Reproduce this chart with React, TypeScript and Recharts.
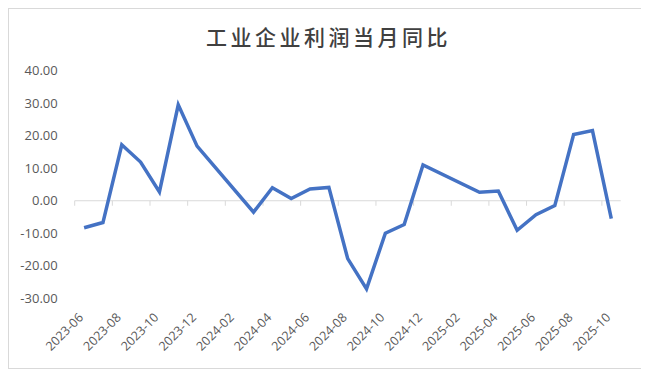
import React from 'react';
import { LineChart, Line, XAxis, YAxis, ReferenceLine } from 'recharts';

const chartTitle = '工业企业利润当月同比';

const months: string[] = [
  '2023-06', '2023-07', '2023-08', '2023-09', '2023-10', '2023-11', '2023-12',
  '2024-01', '2024-02', '2024-03', '2024-04', '2024-05', '2024-06', '2024-07',
  '2024-08', '2024-09', '2024-10', '2024-11', '2024-12',
  '2025-01', '2025-02', '2025-03', '2025-04', '2025-05', '2025-06', '2025-07',
  '2025-08', '2025-09', '2025-10',
];

const profitYoY: (number | null)[] = [
  -8.3, -6.7, 17.2, 11.9, 2.7, 29.5, 16.8,
  null, null, -3.5, 4.0, 0.7, 3.6, 4.1,
  -17.8, -27.1, -10.0, -7.3, 11.0,
  null, null, 2.6, 3.0, -9.1, -4.3, -1.5,
  20.4, 21.6, -5.5,
];

const yTicks: number[] = [-30, -20, -10, 0, 10, 20, 30, 40];

const data = months.map((m, i) => ({ month: m, value: profitYoY[i] }));

const FONT = '"Open Sans", "Noto Sans CJK SC", sans-serif';

const XTick = (props: any) => {
  const { x, y, payload } = props;
  return (
    <text
      x={x}
      y={y}
      transform={`rotate(-45, ${x}, ${y})`}
      textAnchor="end"
      fontSize={12.5}
      fontFamily={FONT}
      fill="#595959"
    >
      {payload.value}
    </text>
  );
};

const ZeroAxis = (props: any) => {
  const { x1, y1, x2, y2 } = props;
  if (x1 == null) return null;
  const n = months.length;
  const bw = (x2 - x1) / n;
  const marks: number[] = [];
  for (let i = 0; i < n; i += 2) marks.push(x1 + i * bw);
  return (
    <g>
      <line x1={x1} y1={y1} x2={x2} y2={y2} stroke="#d9d9d9" strokeWidth={1} />
      {marks.map((mx, i) => (
        <line key={i} x1={mx} y1={y1} x2={mx} y2={y1 + 5} stroke="#d9d9d9" strokeWidth={1} />
      ))}
    </g>
  );
};

export default function App() {
  return (
    <div
      style={{
        position: 'relative',
        width: 638,
        height: 361,
        boxSizing: 'border-box',
        border: '1px solid #d9d9d9',
        background: '#fff',
      }}
    >
      <div
        style={{
          position: 'absolute',
          top: 15,
          left: 0,
          width: '100%',
          textAlign: 'center',
          fontFamily: '"Noto Sans CJK SC", sans-serif',
          fontSize: 21,
          fontWeight: 500,
          lineHeight: '24px',
          letterSpacing: 3.5,
          color: '#404040',
          paddingLeft: 3,
          boxSizing: 'border-box',
        }}
      >
        {chartTitle}
      </div>
      <LineChart
        width={636}
        height={359}
        data={data}
        margin={{ top: 61.7, right: 24.3, left: 0, bottom: 9.7 }}
      >
        <XAxis
          dataKey="month"
          scale="band"
          interval={1}
          axisLine={false}
          tickLine={false}
          tickSize={0}
          tickMargin={20}
          height={60}
          tick={<XTick />}
        />
        <YAxis
          domain={[-30, 40]}
          ticks={yTicks}
          axisLine={false}
          tickLine={false}
          tickSize={0}
          tickMargin={17}
          width={65.7}
          tickFormatter={(v: number) => v.toFixed(2)}
          tick={{ fontSize: 13, fontFamily: FONT, fill: '#595959' }}
        />
        <ReferenceLine y={0} shape={<ZeroAxis />} />
        <Line
          type="linear"
          dataKey="value"
          stroke="#4472C4"
          strokeWidth={3.5}
          dot={false}
          activeDot={false}
          connectNulls
          isAnimationActive={false}
        />
      </LineChart>
    </div>
  );
}
